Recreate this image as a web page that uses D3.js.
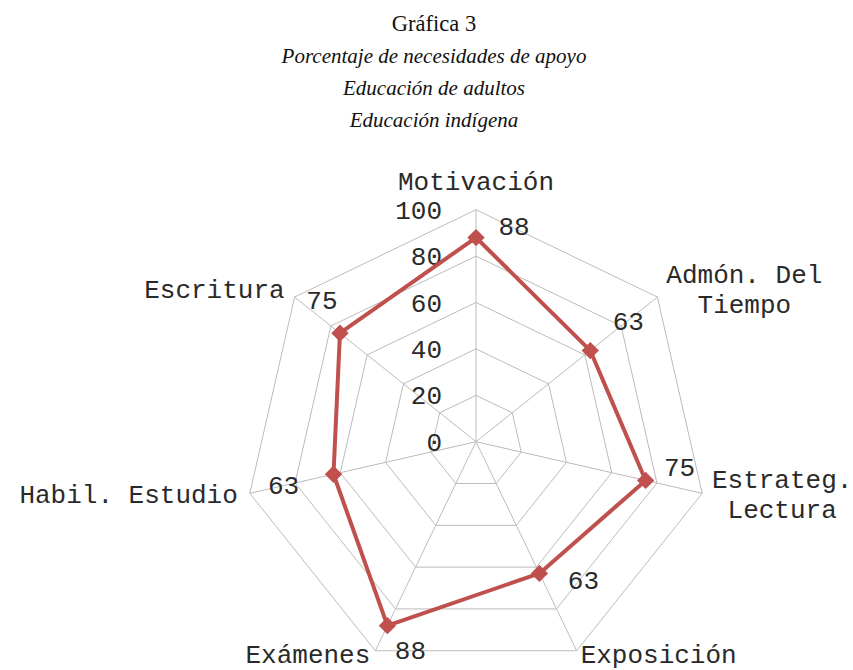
<!DOCTYPE html>
<html><head><meta charset="utf-8">
<script src="https://cdn.jsdelivr.net/npm/d3@7"></script>
<style>body{margin:0;background:#fff}svg{display:block}</style>
</head><body>
<svg id="c" width="853" height="670"></svg>
<script>
const categories = [["Motivación"],["Admón. Del","Tiempo"],["Estrateg.","Lectura"],["Exposición"],["Exámenes"],["Habil. Estudio"],["Escritura"]];
const values = [88,63,75,63,88,63,75];
const tickValues = [0,20,40,60,80,100];
const titleLines = ["Gráfica 3","Porcentaje de necesidades de apoyo","Educación de adultos","Educación indígena"];

// layout (not data)
const W=853,H=670,cx=476,cy=441.7,R=232;
const catLayout=[{dx:0,dy:-20,a:"middle",ls:[0]},{dx:87,dy:-14,a:"middle",ls:[0,30]},{dx:80,dy:-5,a:"middle",ls:[0,30]},{dx:4,dy:12,a:"start",ls:[0]},{dx:-5,dy:12,a:"end",ls:[0]},{dx:-12,dy:10,a:"end",ls:[0]},{dx:-10,dy:1,a:"end",ls:[0]}];
const valOffsets=[[38,-12],[38,-30],[34,-14],[44,7],[23,24],[-50,11],[-18,-33]];

const svg=d3.select("#c");
const n=categories.length;
const ang=d3.scaleLinear().domain([0,n]).range([0,2*Math.PI]);
const r=d3.scaleLinear().domain([0,100]).range([0,R]);
const pt=(i,v)=>[cx+r(v)*Math.sin(ang(i)),cy-r(v)*Math.cos(ang(i))];

// title
svg.append("g").selectAll("text").data(titleLines).join("text")
  .attr("x",434).attr("y",(d,i)=>31+i*32).attr("text-anchor","middle")
  .attr("font-family","'Liberation Serif','DejaVu Serif',serif").attr("font-size",(d,i)=>i===0?22.5:21)
  .attr("font-style",(d,i)=>i===0?"normal":"italic").attr("fill","#111").text(d=>d);

// grid
const grid=svg.append("g").attr("fill","none").attr("stroke","#bcbcbc").attr("stroke-width",1);
tickValues.filter(t=>t>0).forEach(t=>{
  grid.append("path").attr("d",d3.line()(d3.range(n).map(i=>pt(i,t)))+"Z");
});
d3.range(n).forEach(i=>{
  const p=pt(i,100);
  grid.append("line").attr("x1",cx).attr("y1",cy).attr("x2",p[0]).attr("y2",p[1]);
});

const mono="'Liberation Mono','Courier New',monospace";
const txt="#2a2a2a";
// tick labels
svg.append("g").selectAll("text").data(tickValues).join("text")
  .attr("x",cx-34).attr("y",d=>cy-r(d)).attr("dy","0.35em").attr("text-anchor","end")
  .attr("font-family",mono).attr("font-size",26).attr("fill",txt).text(d=>d);

// category labels
const cg=svg.append("g").attr("font-family",mono).attr("font-size",26).attr("fill",txt);
categories.forEach((lines,i)=>{
  const p=pt(i,100),L=catLayout[i];
  const t=cg.append("text").attr("text-anchor",L.a);
  lines.forEach((s,j)=>t.append("tspan").attr("x",p[0]+L.dx).attr("y",p[1]+L.dy+L.ls[j]).text(s));
});

// series
const pts=values.map((v,i)=>pt(i,v));
svg.append("path").attr("d",d3.line()(pts)+"Z").attr("fill","none")
  .attr("stroke","#c0504d").attr("stroke-width",4).attr("stroke-linejoin","round");
svg.append("g").selectAll("path").data(pts).join("path")
  .attr("d",d3.symbol(d3.symbolSquare,150)()).attr("fill","#c0504d")
  .attr("transform",d=>`translate(${d[0]},${d[1]}) rotate(45)`);

// value labels
svg.append("g").selectAll("text").data(values).join("text")
  .attr("x",(d,i)=>pts[i][0]+valOffsets[i][0]).attr("y",(d,i)=>pts[i][1]+valOffsets[i][1])
  .attr("dy","0.35em").attr("text-anchor","middle")
  .attr("font-family",mono).attr("font-size",26).attr("fill",txt).text(d=>d);
</script>
</body></html>
